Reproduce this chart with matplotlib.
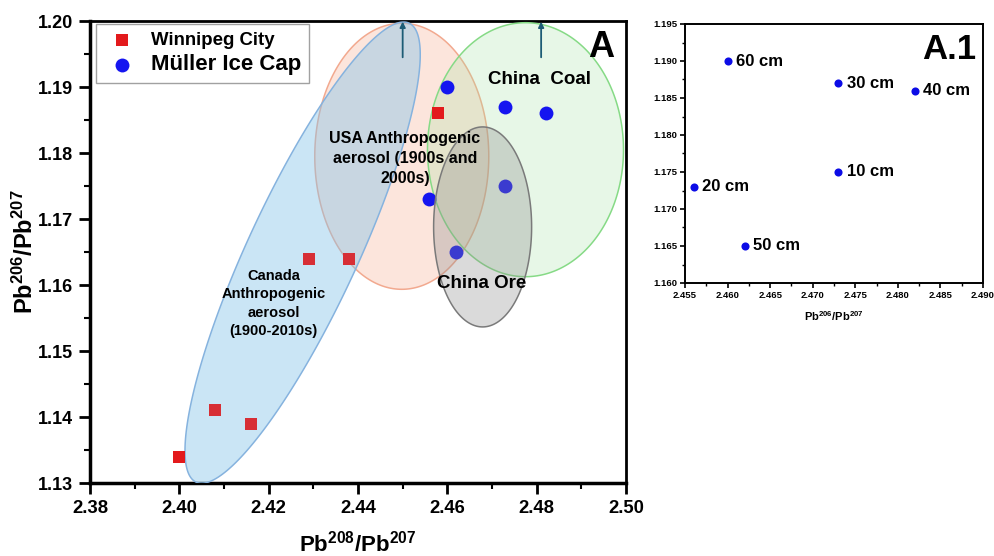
import numpy as np
import matplotlib
matplotlib.use("Agg")
import matplotlib.pyplot as plt
from matplotlib import font_manager
from matplotlib.patches import Polygon
from matplotlib.ticker import MultipleLocator, FormatStrFormatter

# ---------------- data ----------------
winnipeg_x = [2.400, 2.408, 2.416, 2.429, 2.438, 2.458]
winnipeg_y = [1.134, 1.141, 1.139, 1.164, 1.164, 1.186]

muller_x = [2.473, 2.456, 2.473, 2.482, 2.462, 2.460]
muller_y = [1.175, 1.173, 1.187, 1.186, 1.165, 1.190]
depth_labels = ["10 cm", "20 cm", "30 cm", "40 cm", "50 cm", "60 cm"]

main_xticks = [2.38, 2.40, 2.42, 2.44, 2.46, 2.48, 2.50]
main_yticks = [1.13, 1.14, 1.15, 1.16, 1.17, 1.18, 1.19, 1.20]

# source fields: (centre x, centre y, semi-axis a px, semi-axis b px, angle deg)
canada_field = (2.4276, 1.1649, 253, 55, 65.1)
usa_field = (2.4498, 1.1795, 87, 133, 0)
coal_field = (2.4775, 1.1805, 98, 127, 0)
ore_field = (2.4679, 1.1688, 49, 100, 0)
arrow_x = [2.450, 2.481]

# ---------------- fonts ----------------
names = {f.name for f in font_manager.fontManager.ttflist}
base = "Liberation Sans" if "Liberation Sans" in names else "DejaVu Sans"
narrow = "Liberation Sans Narrow" if "Liberation Sans Narrow" in names else base
plt.rcParams["font.family"] = [base, "DejaVu Sans"]
plt.rcParams["font.weight"] = "bold"
plt.rcParams["mathtext.fontset"] = "custom"
plt.rcParams["mathtext.rm"] = base + ":bold"
plt.rcParams["mathtext.bf"] = base + ":bold"
plt.rcParams["mathtext.it"] = base + ":bold"

fig = plt.figure(figsize=(9.95, 5.56), dpi=100)
W, H = 995, 556
ax = fig.add_axes([90 / W, 1 - 483 / H, (626 - 90) / W, (483 - 21) / H])
ax2 = fig.add_axes([685 / W, 1 - 283 / H, (983 - 685) / W, (283 - 24) / H])

# ---------------- main axes ----------------
ax.set_xlim(2.38, 2.50)
ax.set_ylim(1.13, 1.20)
ax.set_xticks(main_xticks)
ax.set_yticks(main_yticks)
ax.xaxis.set_minor_locator(MultipleLocator(0.01))
ax.yaxis.set_minor_locator(MultipleLocator(0.005))
ax.xaxis.set_major_formatter(FormatStrFormatter("%.2f"))
ax.yaxis.set_major_formatter(FormatStrFormatter("%.2f"))
ax.tick_params(which="major", direction="out", length=8, width=2, pad=4)
ax.tick_params(axis="x", which="major", labelsize=13.3)
ax.tick_params(axis="y", which="major", labelsize=13)
ax.tick_params(which="minor", direction="out", length=4.5, width=1.5)
ax.tick_params(top=False, right=False, which="both")
for lab in ax.get_xticklabels() + ax.get_yticklabels():
    lab.set_fontweight("bold")
ax.spines["left"].set_linewidth(2.5)
ax.spines["bottom"].set_linewidth(2.5)
ax.spines["top"].set_linewidth(2)
ax.spines["right"].set_linewidth(2)

ax.set_xlabel(r"Pb$^{\mathbf{208}}$/Pb$^{\mathbf{207}}$", fontsize=16, fontweight="bold", labelpad=10)
ax.set_ylabel(r"Pb$^{\mathbf{206}}$/Pb$^{\mathbf{207}}$", fontsize=17, fontweight="bold", labelpad=0)

sq = ax.scatter(winnipeg_x, winnipeg_y, marker="s", s=85, color="#e31a1c", zorder=3.25,
                label="Winnipeg City", linewidths=0)
ci = ax.scatter(muller_x, muller_y, marker="o", s=100, color="#1515f0", zorder=3.25,
                label="Müller Ice Cap", linewidths=0)

bb = ax.get_window_extent()
kx = bb.width / (2.50 - 2.38)
ky = bb.height / (1.20 - 1.13)


def field(params, face, edge, alpha, z):
    cx, cy, a, b, ang = params
    t = np.linspace(0, 2 * np.pi, 300)
    r = np.radians(ang)
    dx = a * np.cos(t) * np.cos(r) - b * np.sin(t) * np.sin(r)
    dy = a * np.cos(t) * np.sin(r) + b * np.sin(t) * np.cos(r)
    pts = np.column_stack([cx + dx / kx, cy + dy / ky])
    ax.add_patch(Polygon(pts, closed=True, facecolor=face, alpha=alpha, edgecolor="none", zorder=z))
    ax.add_patch(Polygon(pts, closed=True, facecolor="none", edgecolor=edge, lw=1.1, zorder=z))


field(usa_field, "#f7a584", "#f2a98f", 0.28, 3)
field(coal_field, "#a3e3a0", "#86da86", 0.25, 3.1)
field(canada_field, "#86c4ea", "#86b2de", 0.35, 3.2)
field(ore_field, "#8c8c8c", "#7a7a7a", 0.32, 3.3)

# slight veil of the Canada field over its own points, as in the source figure
cx, cy, a, b, ang = canada_field
t = np.linspace(0, 2 * np.pi, 300)
r = np.radians(ang)
vx = cx + (a * np.cos(t) * np.cos(r) - b * np.sin(t) * np.sin(r)) / kx
vy = cy + (a * np.cos(t) * np.sin(r) + b * np.sin(t) * np.cos(r)) / ky
ax.add_patch(Polygon(np.column_stack([vx, vy]), closed=True, facecolor="#86c4ea",
                     alpha=0.12, edgecolor="none", zorder=3.27))

for xa in arrow_x:
    ax.annotate("", xy=(xa, 1.1999), xytext=(xa, 1.1945),
                arrowprops=dict(arrowstyle="-|>", color="#1d5c75", lw=1.3, mutation_scale=8,
                                shrinkA=0, shrinkB=0), zorder=5)

ax.text(2.4505, 1.1791, "USA Anthropogenic\naerosol (1900s and\n2000s)", family=narrow,
        fontsize=11.5, fontweight="bold", ha="center", va="center", linespacing=1.42, zorder=6)
ax.text(2.4211, 1.1572, "Canada\nAnthropogenic\naerosol\n(1900-2010s)", family=narrow,
        fontsize=10.5, fontweight="bold", ha="center", va="center", linespacing=1.38, zorder=6)
ax.text(2.4807, 1.1912, "China  Coal", family=narrow, fontsize=13.5, fontweight="bold",
        ha="center", va="center", zorder=6)
ax.text(2.4677, 1.1602, "China Ore", family=narrow, fontsize=13.5, fontweight="bold",
        ha="center", va="center", zorder=6)
ax.text(0.953, 0.942, "A", transform=ax.transAxes, fontsize=26, fontweight="bold",
        ha="center", va="center", zorder=6)

leg = ax.legend(handles=[sq, ci], loc="upper left", bbox_to_anchor=(0.011, 0.993),
                borderaxespad=0, frameon=True, fancybox=False, edgecolor="#8a8a8a",
                prop=dict(family=base, weight="bold", size=13.4), handletextpad=0.57,
                borderpad=0.4, labelspacing=0.3, handlelength=2.0)
leg.get_frame().set_linewidth(1.0)
leg.set_zorder(10)
leg.get_texts()[1].set_fontsize(16)

# ---------------- inset A.1 ----------------
ax2.set_xlim(2.455, 2.490)
ax2.set_ylim(1.160, 1.195)
ax2.xaxis.set_major_locator(MultipleLocator(0.005))
ax2.yaxis.set_major_locator(MultipleLocator(0.005))
ax2.xaxis.set_minor_locator(MultipleLocator(0.0025))
ax2.yaxis.set_minor_locator(MultipleLocator(0.0025))
ax2.xaxis.set_major_formatter(FormatStrFormatter("%.3f"))
ax2.yaxis.set_major_formatter(FormatStrFormatter("%.3f"))
ax2.tick_params(which="major", direction="out", length=3.5, width=1.2, labelsize=6.8, pad=2)
ax2.tick_params(which="minor", direction="out", length=2, width=1)
for lab in ax2.get_xticklabels() + ax2.get_yticklabels():
    lab.set_fontweight("bold")
for s in ax2.spines.values():
    s.set_linewidth(1.4)
ax2.set_xlabel(r"Pb$^{\mathbf{206}}$/Pb$^{\mathbf{207}}$", fontsize=8, fontweight="bold", labelpad=7)

ax2.scatter(muller_x, muller_y, marker="o", s=34, color="#0c0ce6", linewidths=0, zorder=3)
for xv, yv, lab in zip(muller_x, muller_y, depth_labels):
    ax2.annotate(lab, (xv, yv), xytext=(6, 0), textcoords="offset points",
                 fontsize=12, fontweight="bold", ha="left", va="center")
ax2.text(0.979, 0.9, "A.1", transform=ax2.transAxes, fontsize=25, fontweight="bold",
         ha="right", va="center")

fig.savefig("out.png", dpi=100)
